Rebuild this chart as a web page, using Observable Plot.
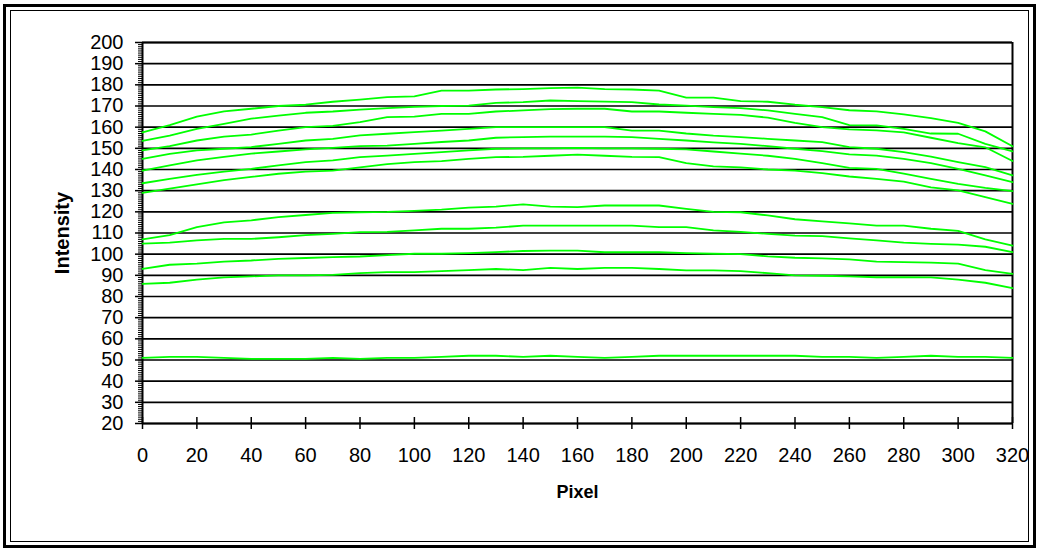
<!DOCTYPE html>
<html>
<head>
<meta charset="utf-8">
<script src="https://cdn.jsdelivr.net/npm/d3@7"></script>
<script src="https://cdn.jsdelivr.net/npm/@observablehq/plot@0.6"></script>
<style>
  html, body { margin: 0; padding: 0; background: #fff; }
  #wrap { position: relative; width: 1039px; height: 551px; overflow: hidden; }
  #outer { position: absolute; left: 3px; top: 4px; width: 1027px; height: 538px; border: 3px solid #000; pointer-events: none; }
  #inner { position: absolute; left: 10px; top: 10px; width: 1017px; height: 530px; border: 1.5px solid #000; pointer-events: none; }
  svg { display: block; }
</style>
</head>
<body>
<div id="wrap"><div id="chart"></div><div id="outer"></div><div id="inner"></div></div>
<script>
// Sample positions (pixel index) and axis ticks
const pixels = d3.range(0, 321, 10);
const xTicks = [0, 20, 40, 60, 80, 100, 120, 140, 160, 180, 200, 220, 240, 260, 280, 300, 320];
const yTicks = [20, 30, 40, 50, 60, 70, 80, 90, 100, 110, 120, 130, 140, 150, 160, 170, 180, 190, 200];
const yMinorTicks = d3.range(20, 201, 1);

// Intensity profiles (one value every 10 pixels)
const s1 = [157.5,161,165,167.5,168.7,170,170.6,172,173,174.2,174.5,177.3,177.3,177.8,178,178.4,178.7,178,177.8,177.3,174,174,172.3,172,170.6,169.5,168,167.5,166,164.3,162,158,151];
const s2 = [153.5,156,159.2,161.6,164,165.5,166.8,167.4,168.3,169,169.6,170,170.2,171.5,171.8,172.6,172.3,172.1,171.8,170.7,170.2,169.5,169,167.9,166.3,164.7,161,160.8,159.2,157,156.9,152.1,148.6];
const s3 = [149,151,153.7,155.5,156.5,158.4,160,160.6,162.4,164.7,165,166.3,166.3,167.4,167.9,168.5,168.7,168.7,167.4,167.4,166.8,166.3,165.8,164.5,162,160,159,158.5,157.5,155,152.5,150.5,144];
const s4 = [145,147.4,149,149.8,150.6,152.1,153.7,154.5,156.1,156.9,157.7,158.4,159.2,160,160,160,160,160,158.4,158.4,157,156,155.3,154.5,153.7,152.9,150.6,149.8,148.2,146.1,143.5,141.1,137.2];
const s5 = [139.5,142,144.3,146,147.5,148.5,149.5,150.2,151,151.3,152.1,153,153.7,155,155.3,155.5,155.5,155.5,155.3,154.5,153.7,152.8,152.1,151,149.8,148.7,147.1,146.6,145,143,140.3,137.2,134];
const s6 = [133.5,135.6,137.5,139,140.3,141.9,143.5,144.3,145.8,146.6,147.4,148.2,149,149.8,150,150,150.2,150,150,149.8,149.5,148.5,147.5,146.5,145,143,140.8,140.3,138,135.6,133.2,131.3,129.8];
const s7 = [129,131,133,135,136.5,138,139,139.5,141,142.5,143.5,144,145,145.8,146,146.5,147,146.5,146,145.8,143,141.5,141,140,139.5,138.3,136.7,135.6,134.3,131.6,130.1,126.9,123.8];
const s8 = [107,109,112.8,115,116,117.5,118.5,119.5,119.8,120,120.5,121,122,122.5,123.5,122.5,122.2,123,123,123,121.4,120,119.8,118.3,116.5,115.5,114.5,113.5,113.5,112,111,107,104];
const s9 = [105,105.5,106.5,107.2,107.2,108,109,109.6,110.4,110.5,111.2,112,112,112.5,113.5,113.5,113.5,113.5,113.5,112.8,112.8,111.2,110.5,109.6,108.8,108.5,107.5,106.5,105.5,104.9,104.5,103.5,101];
const s10 = [93,95,95.5,96.5,97,97.8,98.2,98.6,98.9,99.5,100.2,100.2,100.5,101,101.5,101.7,101.7,100.9,100.9,100.9,100.5,100.2,100,99,98.3,98,97.5,96.5,96.2,96,95.5,92.5,90.7];
const s11 = [86,86.5,88,89,89.5,90,90,90.2,91,91.5,91.5,92,92.5,93,92.5,93.5,93,93.5,93.5,93,92.3,92.3,92,91,90,89.8,89.5,89.1,89.1,89,88,86.5,84];
const s12 = [51,51.5,51.5,51,50.5,50.5,50.5,51,50.5,51,51,51.5,52,52,51.5,52,51.5,51,51.5,52,52,52,52,52,52,51.5,51.5,51,51.5,52,51.5,51.5,51];

const seriesList = [s1, s2, s3, s4, s5, s6, s7, s8, s9, s10, s11, s12];
const rows = seriesList.flatMap((vals, k) => vals.map((v, i) => ({series: "S" + (k + 1), pixel: pixels[i], intensity: v})));

const font = "'Liberation Sans', Arial, sans-serif";

const chart = Plot.plot({
  width: 1039,
  height: 551,
  marginLeft: 142,
  marginRight: 27,
  marginTop: 42,
  marginBottom: 128,
  style: {fontFamily: font, fontSize: "20px", color: "#000", background: "transparent", overflow: "visible"},
  x: {domain: [0, 320], label: null},
  y: {domain: [20, 200], label: null},
  marks: [
    // horizontal gridlines
    Plot.ruleY(yTicks, {stroke: "#000", strokeWidth: 1.7}),
    // minor and major y ticks
    Plot.axisY({ticks: yMinorTicks, tickSize: 4, tickFormat: () => "", label: null, strokeWidth: 1}),
    Plot.axisY({ticks: yTicks, tickSize: 7, tickPadding: 12, fontSize: 20, label: null, strokeWidth: 1.5}),
    // x axis labels
    Plot.axisX({ticks: xTicks, tickSize: 0, tickPadding: 24, fontSize: 20, label: null}),
    // cross ticks on x axis
    Plot.ruleX(xTicks, {x: d => d, y1: 20, y2: 20, insetTop: -6, insetBottom: -6, stroke: "#000", strokeWidth: 1.5}),
    // axis lines / border
    Plot.ruleX([0], {stroke: "#000", strokeWidth: 2}),
    Plot.ruleX([320], {stroke: "#000", strokeWidth: 2}),
    Plot.ruleY([20], {stroke: "#000", strokeWidth: 2}),
    Plot.ruleY([200], {stroke: "#000", strokeWidth: 2}),
    // data
    Plot.line(rows, {x: "pixel", y: "intensity", z: "series", stroke: "#00ff00", strokeWidth: 1.8, curve: "linear"}),
    // titles
    Plot.text(["Intensity"], {frameAnchor: "left", dx: -80, rotate: -90, textAnchor: "middle", fontWeight: "bold", fontSize: 20, fill: "#000"}),
    Plot.text(["Pixel"], {frameAnchor: "bottom", dy: 74, textAnchor: "middle", fontWeight: "bold", fontSize: 18, fill: "#000"})
  ]
});
document.getElementById("chart").appendChild(chart);
</script>
</body>
</html>
